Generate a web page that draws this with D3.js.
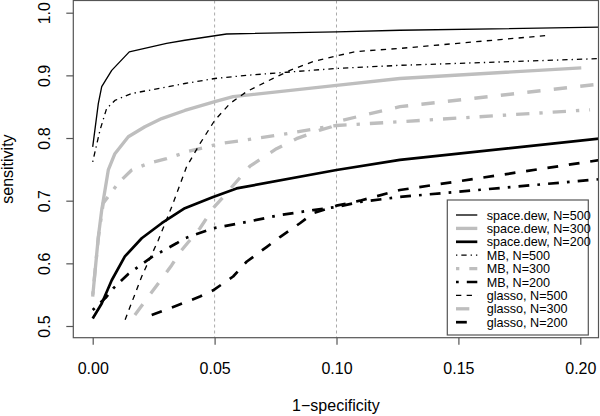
<!DOCTYPE html>
<html><head><meta charset="utf-8">
<script src="https://cdn.jsdelivr.net/npm/d3@7"></script>
<style>body{margin:0;background:#fff}svg{display:block;font-family:"Liberation Sans",Arial,sans-serif}</style>
</head><body>
<svg id="chart" width="600" height="416"></svg>
<script>
// ---- data (x = 1-specificity, y = sensitivity) ----
const sd500x = [0,0.0023,0.0037,0.0078,0.0150,0.0303,0.0378,0.0549,0.100,0.126,0.21];
const sd500y = [0.786,0.855,0.882,0.908,0.9375,0.951,0.956,0.966,0.9695,0.972,0.977];
const sd300x = [0,0.0023,0.0037,0.0064,0.0091,0.0146,0.0214,0.0283,0.0378,0.0501,0.0576,0.100,0.126,0.2004];
const sd300y = [0.547,0.642,0.685,0.749,0.775,0.802,0.818,0.831,0.844,0.858,0.866,0.884,0.895,0.912];
const sd200x = [0,0.0037,0.0078,0.0132,0.0201,0.0283,0.0378,0.0494,0.059,0.100,0.126,0.21];
const sd200y = [0.512,0.536,0.573,0.611,0.640,0.664,0.688,0.706,0.7196,0.749,0.765,0.800];
const mb500x = [0,0.003,0.0057,0.0091,0.016,0.0378,0.0501,0.063,0.0795,0.100,0.126,0.21];
const mb500y = [0.762,0.8126,0.847,0.86,0.871,0.887,0.895,0.90,0.905,0.911,0.916,0.927];
const mb300x = [0,0.0023,0.0043,0.0105,0.016,0.0232,0.0303,0.0395,0.0522,0.0768,0.0959,0.100,0.126,0.204];
const mb300y = [0.55,0.64,0.696,0.728,0.749,0.760,0.767,0.779,0.791,0.805,0.818,0.820,0.826,0.845];
const mb200x = [0,0.0053,0.0084,0.0146,0.0242,0.0344,0.0378,0.0494,0.0631,0.0768,0.0904,0.100,0.1096,0.126,0.21];
const mb200y = [0.5255,0.545,0.56,0.583,0.61,0.632,0.64,0.656,0.666,0.677,0.685,0.69,0.698,0.706,0.735];
const gl500x = [0.0133,0.0201,0.0269,0.0324,0.0385,0.044,0.0501,0.0563,0.0631,0.0713,0.0809,0.0904,0.100,0.108,0.126,0.1874];
const gl500y = [0.51,0.579,0.637,0.69,0.754,0.791,0.8285,0.855,0.874,0.89,0.908,0.922,0.931,0.938,0.943,0.964];
const gl300x = [0.0173,0.0248,0.0324,0.0358,0.044,0.0494,0.0522,0.0645,0.0754,0.0836,0.0932,0.098,0.1027,0.1096,0.126,0.21];
const gl300y = [0.5175,0.557,0.597,0.618,0.656,0.688,0.70,0.755,0.783,0.799,0.8126,0.818,0.8285,0.835,0.85,0.887];
const gl200x = [0.0242,0.0351,0.044,0.0494,0.0576,0.0631,0.0713,0.0768,0.085,0.0904,0.100,0.1096,0.126,0.21];
const gl200y = [0.5175,0.5335,0.547,0.557,0.579,0.6025,0.626,0.642,0.664,0.68,0.692,0.70,0.717,0.766];

const seriesNames = ["space.dew, N=500","space.dew, N=300","space.dew, N=200",
                     "MB, N=500","MB, N=300","MB, N=200",
                     "glasso, N=500","glasso, N=300","glasso, N=200"];
const xTicks = [0,0.05,0.10,0.15,0.20];
const yTicks = [0.5,0.6,0.7,0.8,0.9,1.0];
const gridX = [0.05,0.10];

// ---- styles ----
const GREY = "#bebebe";
const sN = 1.33, sG = 3.33, sB = 2.7; // line widths
function dash(lty, s){ if(lty==="solid") return null;
  if(lty==="dashed") return [4*s,4*s].join(",");
  return [1*s,3*s,4*s,3*s].join(","); }
const styles = [
  {c:"#000", w:sN, lty:"solid"},{c:GREY, w:sG, lty:"solid"},{c:"#000", w:sB, lty:"solid"},
  {c:"#000", w:sN, lty:"dotdash"},{c:GREY, w:sG, lty:"dotdash"},{c:"#000", w:sB, lty:"dotdash"},
  {c:"#000", w:sN, lty:"dashed"},{c:GREY, w:sG, lty:"dashed"},{c:"#000", w:sB, lty:"dashed"}];
const data = [[sd500x,sd500y],[sd300x,sd300y],[sd200x,sd200y],
              [mb500x,mb500y],[mb300x,mb300y],[mb200x,mb200y],
              [gl500x,gl500y],[gl300x,gl300y],[gl200x,gl200y]]
  .map(([xs,ys]) => xs.map((v,i)=>({x:v,y:ys[i]})));

// ---- layout ----
const L=73.3, R=598.5, T=0.5, B=337.7;
const x = d3.scaleLinear().domain([0,0.2]).range([92.7,580.3]);
const y = d3.scaleLinear().domain([0.5,1.0]).range([326,12.7]);
const svg = d3.select("#chart");
const AX = "#555";

svg.append("clipPath").attr("id","clip").append("rect")
  .attr("x",L).attr("y",T).attr("width",R-L).attr("height",B-T);

// grid
svg.append("g").selectAll("line").data(gridX).join("line")
  .attr("x1",d=>x(d)).attr("x2",d=>x(d)).attr("y1",T).attr("y2",B)
  .attr("stroke","#aaa").attr("stroke-width",1).attr("stroke-dasharray","3,3");

// lines
const line = d3.line().x(d=>x(d.x)).y(d=>y(d.y));
const g = svg.append("g").attr("clip-path","url(#clip)");
data.forEach((d,i)=>{
  const s = styles[i];
  g.append("path").attr("d",line(d)).attr("fill","none")
    .attr("stroke",s.c).attr("stroke-width",s.w)
    .attr("stroke-dasharray",dash(s.lty,s.w))
    .attr("stroke-linejoin","round");
});

// box
svg.append("rect").attr("x",L).attr("y",T).attr("width",R-L).attr("height",B-T)
  .attr("fill","none").attr("stroke",AX).attr("stroke-width",1.2);

// axes
const xa = svg.append("g").attr("transform",`translate(0,${B})`)
  .call(d3.axisBottom(x).tickValues(xTicks).tickFormat(d3.format(".2f")).tickSize(7).tickPadding(0));
xa.select(".domain").remove();
xa.selectAll("line").attr("stroke",AX).attr("stroke-width",1.2);
xa.selectAll("text").attr("font-size",16).attr("fill","#000").attr("y",36).attr("dy",0)
  .attr("font-family","Liberation Sans, Arial, sans-serif");

const ya = svg.append("g").attr("transform",`translate(${L},0)`)
  .call(d3.axisLeft(y).tickValues(yTicks).tickFormat(d3.format(".1f")).tickSize(7));
ya.select(".domain").remove();
ya.selectAll("line").attr("stroke",AX).attr("stroke-width",1.2);
ya.selectAll("text").attr("font-size",16).attr("fill","#000")
  .attr("transform","rotate(-90)").attr("x",0).attr("y",-23.3).attr("dy",0)
  .attr("text-anchor","middle").attr("font-family","Liberation Sans, Arial, sans-serif");

// axis titles
svg.append("text").attr("x",(L+R)/2).attr("y",411).attr("text-anchor","middle")
  .attr("font-size",16).text("1\u2212specificity");
svg.append("text").attr("transform",`translate(13,${(T+B)/2}) rotate(-90)`)
  .attr("text-anchor","middle").attr("font-size",16).text("sensitivity");

// legend
const lg = svg.append("g");
lg.append("rect").attr("x",447.3).attr("y",200).attr("width",141).attr("height",135)
  .attr("fill","#fff").attr("stroke",AX).attr("stroke-width",1.2);
seriesNames.forEach((n,i)=>{
  const yy = 215 + i*13.4, s = styles[i];
  lg.append("line").attr("x1",456).attr("x2",477.3).attr("y1",yy).attr("y2",yy)
    .attr("stroke",s.c).attr("stroke-width",s.w).attr("stroke-dasharray",dash(s.lty,s.w));
  lg.append("text").attr("x",486.7).attr("y",yy).attr("dy","0.36em")
    .attr("font-size",12.6).text(n);
});
</script>
</body></html>
